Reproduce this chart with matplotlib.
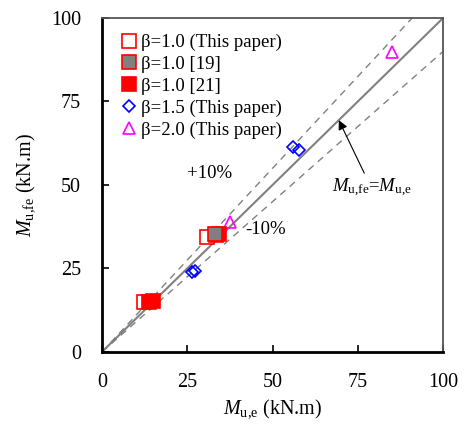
import matplotlib
matplotlib.use("Agg")
import matplotlib.pyplot as plt
import numpy as np

plt.rcParams['font.family'] = ['Liberation Serif', 'DejaVu Serif']
plt.rcParams['mathtext.fontset'] = 'custom'
plt.rcParams['mathtext.rm'] = 'Liberation Serif'
plt.rcParams['mathtext.it'] = 'Liberation Serif:italic'

# Experimental vs. FE ultimate moments (kN.m)
b10_this_x = [12.4, 30.8, 33.5]
b10_this_y = [14.8, 34.5, 35.0]
b10_ref19_x = [33.2]
b10_ref19_y = [35.2]
b10_ref21_x = [13.8, 14.8, 34.2]
b10_ref21_y = [15.0, 15.2, 35.4]
b15_x = [26.3, 27.3, 56.1, 57.6]
b15_y = [23.8, 24.1, 61.3, 60.4]
b20_x = [37.5, 85.1]
b20_y = [38.8, 89.9]

ticks = [0, 25, 50, 75, 100]

fig = plt.figure(figsize=(4.66, 4.28), dpi=100)
ax = fig.add_axes([0.219, 0.178, 0.732, 0.78])

line = np.array([0, 100])
ax.plot(line, line, color='#808080', lw=1.5, zorder=1)
ax.plot(line, 1.1 * line, color='#808080', lw=1.0, ls=(0, (5, 4)), zorder=1)
ax.plot(line, 0.9 * line, color='#808080', lw=1.0, ls=(0, (5, 4)), zorder=1)

ms = 9.5
ax.plot(b10_this_x, b10_this_y, ls='none', marker='s', ms=ms, mfc='white',
        mec='red', mew=1.2, label='β=1.0 (This paper)', zorder=3)
ax.plot(b10_ref19_x, b10_ref19_y, ls='none', marker='s', ms=ms, mfc='#808080',
        mec='red', mew=1.2, label='β=1.0 [19]', zorder=5)
ax.plot(b10_ref21_x, b10_ref21_y, ls='none', marker='s', ms=ms, mfc='red',
        mec='red', mew=1.2, label='β=1.0 [21]', zorder=4)
ax.plot(b15_x, b15_y, ls='none', marker='D', ms=6.5, mfc='none',
        mec='blue', mew=1.2, label='β=1.5 (This paper)', zorder=3)
ax.plot(b20_x, b20_y, ls='none', marker='^', ms=9, mfc='none',
        mec='magenta', mew=1.2, label='β=2.0 (This paper)', zorder=3)

ax.set_xlim(0, 100)
ax.set_ylim(0, 100)
ax.set_xticks(ticks)
ax.set_yticks(ticks)
ax.tick_params(direction='in', length=5, width=1.2, labelsize=14.5, pad=15,
               top=False, right=False)
for s in ['left', 'bottom']:
    ax.spines[s].set_linewidth(2)
    ax.spines[s].set_color('black')
for s in ['top', 'right']:
    ax.spines[s].set_linewidth(1.3)
    ax.spines[s].set_color('#555555')

ax.set_xlabel(r'$M_{\rm u{,}e}$ (kN.m)', fontsize=14.5, labelpad=4)
ax.set_ylabel(r'$M_{\rm u{,}fe}$ (kN.m)', fontsize=14.5, labelpad=10)

ax.text(31.5, 53.5, '+10%', fontsize=13.5, ha='center', va='center')
ax.text(48, 36.5, '-10%', fontsize=13.5, ha='center', va='center')
ax.annotate(r'$M_{\rm u{,}fe}$=$M_{\rm u{,}e}$', xy=(69.4, 69.4), xytext=(79, 49),
            fontsize=13.5, ha='center', va='center',
            arrowprops=dict(arrowstyle='-|>', color='black', lw=0.8,
                            mutation_scale=14, shrinkA=1, shrinkB=0))

ax.legend(loc='upper left', bbox_to_anchor=(0.02, 0.975), frameon=False,
          fontsize=13.5, handletextpad=0.0, handlelength=1.3,
          labelspacing=0.25, borderaxespad=0.2, borderpad=0.2, numpoints=1)

fig.savefig('out.png', dpi=100)
